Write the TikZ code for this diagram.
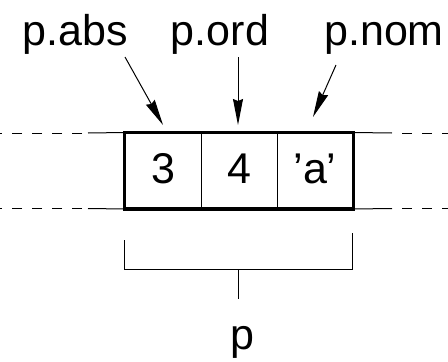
\documentclass[tikz,border=0pt]{standalone}
\usepackage{fontspec}
\setmainfont{Liberation Sans}
\usetikzlibrary{arrows.meta}
\begin{document}
\begin{tikzpicture}[x=1pt,y=-1pt,
  lbl/.style={inner sep=0pt,anchor=base,font=\fontsize{43}{50}\selectfont},
  cell/.style={draw,line width=1pt,minimum width=76pt,minimum height=75.5pt,inner sep=0pt,
    text height=30pt,text depth=4pt,font=\fontsize{43}{50}\selectfont},
  thin/.style={line width=1pt},
  dsh/.style={line width=1pt,dash pattern=on 10pt off 10pt},
  arr/.style={line width=1pt,-{Stealth[length=26pt,width=10pt,inset=2pt]}}]
\useasboundingbox (0,0) rectangle (448,362);
% labels
\node[lbl] (abs) at (75,45) {p.abs};
\node[lbl] (ord) at (220,45) {p.ord};
\node[lbl] (nom) at (384,45) {p.nom};
% cells
\node[cell] (c1) at (163,170.75) {3};
\node[cell] (c2) at (239,170.75) {4};
\node[cell] (c3) at (315,170.75) {'a'};
\draw[line width=3.5pt] (c1.north west) rectangle (c3.south east);
% side lines
\coordinate (lt) at (88,133); \coordinate (lb) at (88,208.5);
\coordinate (ltd) at (82,133); \coordinate (lbd) at (82,208.5);
\coordinate (rt) at (392,133); \coordinate (rb) at (392,208.5);
\coordinate (rtd) at (402,133); \coordinate (rbd) at (402,208.5);
\draw[thin] (lt) -- (c1.north west);
\draw[thin] (lb) -- (c1.south west);
\draw[thin] (c3.north east) -- (rt);
\draw[thin] (c3.south east) -- (rb);
\draw[dsh] (ltd) -- (0,133);
\draw[dsh] (lbd) -- (0,208.5);
\draw[dsh] (rtd) -- (448,133);
\draw[dsh] (rbd) -- (448,208.5);
% arrows
\coordinate (a1) at (125,57); \coordinate (t1) at (163,125);
\coordinate (a2) at (238,57); \coordinate (t2) at (238,125);
\coordinate (a3) at (336,65); \coordinate (t3) at (313,117);
\draw[arr] (a1) -- (t1);
\draw[arr] (a2) -- (t2);
\draw[arr] (a3) -- (t3);
% bracket
\coordinate (b1) at (124,240); \coordinate (b2) at (124,269);
\coordinate (b3) at (352,269); \coordinate (b4) at (352,233);
\coordinate (m1) at (238,269); \coordinate (m2) at (238,299);
\draw[thin] (b1) -- (b2) -- (b3) -- (b4);
\draw[thin] (m1) -- (m2);
\node[lbl] (p) at (242,349) {p};
\end{tikzpicture}
\end{document}
